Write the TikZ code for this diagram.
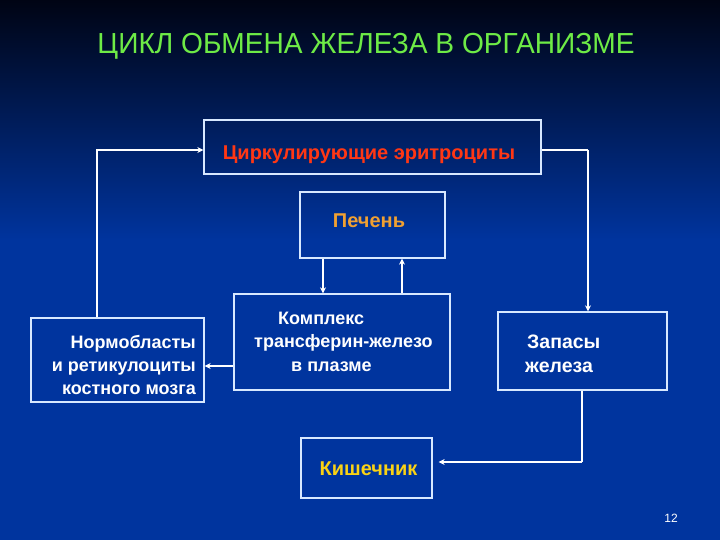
\documentclass[tikz,border=0pt]{standalone}
\usepackage{fontspec}
\setmainfont{Liberation Sans}
\newfontfamily\titlefont[FakeStretch=0.97]{Liberation Sans}
\usetikzlibrary{arrows.meta}
\definecolor{bgtop}{RGB}{0,4,20}
\definecolor{bgmid}{RGB}{0,30,105}
\definecolor{bgbot}{RGB}{0,52,158}
\definecolor{titlegreen}{RGB}{110,235,70}
\definecolor{boxline}{RGB}{215,232,255}
\definecolor{redtext}{RGB}{255,55,20}
\definecolor{orangetext}{RGB}{240,160,50}
\definecolor{yellowtext}{RGB}{250,210,20}
\tikzset{
  boxnode/.style={draw=boxline, line width=1.3pt, inner sep=0pt},
  conn/.style={draw=white, line width=2pt},
  arr/.style={conn, -{Stealth[length=6pt,width=6pt]}},
  bodytext/.style={font=\fontsize{18}{23}\selectfont\bfseries, text=white, inner sep=0pt},
  colortext/.style={font=\fontsize{20}{23}\selectfont\bfseries, inner sep=0pt, anchor=base}
}
\begin{document}
\begin{tikzpicture}[x=1pt,y=-1pt]
\useasboundingbox (0,0) rectangle (720,540);
\shade[top color=bgtop, middle color=bgmid, bottom color=bgbot] (0,0) rectangle (720,240);
\fill[bgbot] (0,239) rectangle (720,540);

\node[text=titlegreen, font=\titlefont\fontsize{29}{30}\selectfont, inner sep=0pt, anchor=base] (title) at (366,54) {ЦИКЛ ОБМЕНА ЖЕЛЕЗА В ОРГАНИЗМЕ};

% boxes
\node[boxnode, minimum width=337pt, minimum height=54pt] (ery) at (372.5,147) {};
\node[colortext, text=redtext] (erytxt) at (369,160) {Циркулирующие эритроциты};

\node[boxnode, minimum width=145pt, minimum height=66pt] (liver) at (372.5,225) {};
\node[colortext, text=orangetext] (livertxt) at (369,227) {Печень};

\node[boxnode, minimum width=216pt, minimum height=96pt] (plasma) at (342,342) {};
\node[bodytext, anchor=base west] (pl1) at (278,324) {Комплекс};
\node[bodytext, anchor=base west] (pl2) at (254,347.5) {трансферин-железо};
\node[bodytext, anchor=base west] (pl3) at (291,371) {в плазме};

\node[boxnode, minimum width=173pt, minimum height=84pt] (normo) at (117.5,360) {};
\node[bodytext, anchor=base east] (no1) at (196,348) {Нормобласты};
\node[bodytext, anchor=base east] (no2) at (196,371) {и ретикулоциты};
\node[bodytext, anchor=base east] (no3) at (196,394) {костного мозга};

\node[boxnode, minimum width=169pt, minimum height=78pt] (store) at (582.5,351) {};
\node[bodytext, font=\fontsize{19.5}{23}\selectfont\bfseries, anchor=base west] (st1) at (527,348) {Запасы};
\node[bodytext, font=\fontsize{19.5}{23}\selectfont\bfseries, anchor=base west] (st2) at (525,372) {железа};

\node[boxnode, minimum width=131pt, minimum height=60pt] (gut) at (366.5,468) {};
\node[colortext, text=yellowtext] (guttxt) at (368.5,475) {Кишечник};

\node[text=white, font=\fontsize{12}{14}\selectfont, inner sep=0pt] (pagenum) at (671,518) {12};

% connectors
\coordinate (tl) at (97,150);
\coordinate (tr) at (588,150);
\coordinate (bend) at (582,462);
\draw[conn] (normo.north -| tl) -- (tl) -- (102,150);
\draw[arr] (102,150) -- (ery.west |- tl);
\draw[conn] (ery.east |- tr) -- (tr);
\draw[arr] (tr) -- (store.north -| tr);
\draw[arr] (liver.south -| 323,0) -- (plasma.north -| 323,0);
\draw[arr] (plasma.north -| 402,0) -- (liver.south -| 402,0);
\draw[arr] (plasma.west |- 0,366) -- (normo.east |- 0,366);
\draw[conn] (store.south -| bend) -- (bend);
\draw[arr] (bend) -- ([xshift=6pt]gut.east |- bend);
\end{tikzpicture}
\end{document}
